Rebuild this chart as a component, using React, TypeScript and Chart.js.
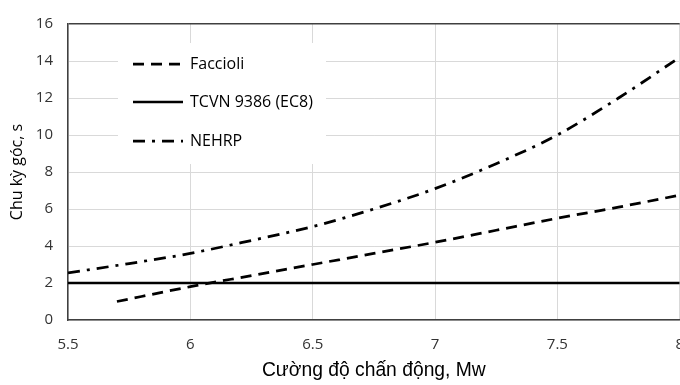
import React, { useEffect, useRef } from "react";
import { Chart, registerables } from "chart.js";

Chart.register(...registerables);

const faccioliX = [5.7, 6.0, 6.25, 6.5, 6.75, 7.0, 7.25, 7.5, 7.75, 8.0];
const faccioliY = [1.0, 1.8, 2.4, 3.0, 3.6, 4.2, 4.85, 5.5, 6.1, 6.75];

const tcvnX = [5.5, 8.0];
const tcvnY = [2.0, 2.0];

const nehrpX = [5.5, 5.75, 6.0, 6.25, 6.5, 6.75, 7.0, 7.25, 7.5, 7.75, 8.0];
const nehrpY = [2.55, 3.05, 3.6, 4.3, 5.05, 6.0, 7.1, 8.45, 10.0, 12.0, 14.2];

const seriesLabels = ["Faccioli", "TCVN 9386 (EC8)", "NEHRP"];
const xTitle = "Cường độ chấn động, Mw";
const yTitle = "Chu kỳ góc, s";

const pts = (xs: number[], ys: number[]) => xs.map((x, i) => ({ x, y: ys[i] }));

const tickFont = { family: "'Open Sans', sans-serif", size: 15 };

const legendPlugin = {
  id: "insideLegend",
  afterDatasetsDraw(chart: any) {
    const ctx = chart.ctx;
    ctx.save();
    ctx.fillStyle = "#ffffff";
    ctx.fillRect(118, 43, 208, 121);
    const rows = [64, 102, 141];
    chart.data.datasets.forEach((ds: any, i: number) => {
      const y = rows[i];
      ctx.beginPath();
      ctx.strokeStyle = ds.borderColor;
      ctx.lineWidth = ds.borderWidth;
      ctx.lineCap = "butt";
      ctx.setLineDash(ds.borderDash || []);
      ctx.moveTo(133, y);
      ctx.lineTo(183, y);
      ctx.stroke();
      ctx.setLineDash([]);
      ctx.fillStyle = "#000000";
      ctx.font = "16px 'Open Sans', sans-serif";
      ctx.textBaseline = "middle";
      ctx.textAlign = "left";
      ctx.fillText(ds.label, 190, y);
    });
    ctx.restore();
  },
};

export default function App() {
  const ref = useRef<HTMLCanvasElement | null>(null);
  useEffect(() => {
    if (!ref.current) return;
    const chart = new Chart(ref.current, {
      type: "line",
      data: {
        datasets: [
          {
            label: seriesLabels[0],
            data: pts(faccioliX, faccioliY),
            borderColor: "#000000",
            borderWidth: 2.75,
            borderDash: [11, 7],
            pointRadius: 0,
            cubicInterpolationMode: "monotone",
            fill: false,
          },
          {
            label: seriesLabels[1],
            data: pts(tcvnX, tcvnY),
            borderColor: "#000000",
            borderWidth: 2.5,
            pointRadius: 0,
            fill: false,
          },
          {
            label: seriesLabels[2],
            data: pts(nehrpX, nehrpY),
            borderColor: "#000000",
            borderWidth: 2.75,
            borderDash: [12, 7, 3, 7],
            pointRadius: 0,
            cubicInterpolationMode: "monotone",
            fill: false,
          },
        ],
      },
      options: {
        animation: false,
        responsive: false,
        devicePixelRatio: 1,
        layout: { padding: { left: 0, top: 12, right: 20, bottom: 0 } },
        plugins: { legend: { display: false }, tooltip: { enabled: false } },
        scales: {
          x: {
            type: "linear",
            min: 5.5,
            max: 8,
            afterFit: (s: any) => {
              s.height = 65;
            },
            ticks: {
              stepSize: 0.5,
              color: "#333333",
              font: tickFont,
              padding: 16,
              callback: (v: any) => String(v),
            },
            grid: { color: "#d9d9d9", lineWidth: 1, drawTicks: false },
            border: { display: true, color: "#404040", width: 1.5 },
            title: {
              display: true,
              text: xTitle,
              color: "#000000",
              font: { family: "'Liberation Sans', Arial, sans-serif", size: 19.3 },
              padding: { top: 0, bottom: 3 },
            },
          },
          y: {
            min: 0,
            max: 16,
            afterFit: (s: any) => {
              s.width = 68;
            },
            ticks: {
              stepSize: 2,
              color: "#333333",
              font: tickFont,
              padding: 15,
            },
            grid: {
              color: (c: any) => (c.tick && c.tick.value === 16 ? "#404040" : "#d9d9d9"),
              lineWidth: (c: any) => (c.tick && c.tick.value === 16 ? 1.5 : 1),
              drawTicks: false,
            },
            border: { display: true, color: "#404040", width: 1.5 },
            title: {
              display: true,
              text: yTitle,
              color: "#000000",
              font: { family: "'Open Sans', sans-serif", size: 16 },
              padding: { top: 8, bottom: 0 },
            },
          },
        },
      },
      plugins: [legendPlugin],
    } as any);
    return () => chart.destroy();
  }, []);
  return (
    <div
      style={{
        position: "fixed",
        left: 0,
        top: 0,
        width: 680,
        height: 385,
        overflow: "hidden",
        background: "#ffffff",
      }}
    >
      <canvas ref={ref} width={700} height={385} style={{ width: 700, height: 385, display: "block" }} />
    </div>
  );
}
